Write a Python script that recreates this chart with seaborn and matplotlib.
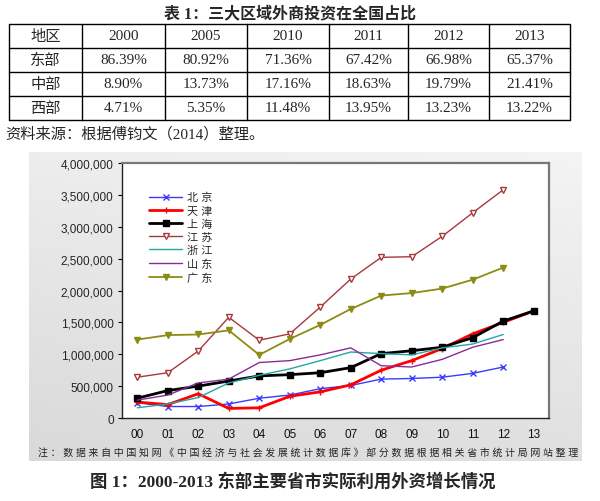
import numpy as np
import pandas as pd
import matplotlib
matplotlib.use('Agg')
import matplotlib.pyplot as plt
import seaborn as sns
from matplotlib.colors import LinearSegmentedColormap
from matplotlib.ticker import FuncFormatter, MultipleLocator, FixedLocator

sns.set_style('white')
plt.rcParams['font.family'] = ['Liberation Sans', 'Noto Sans CJK SC']

# Table 1 data
table_header = ['地区', '2000', '2005', '2010', '2011', '2012', '2013']
regions = ['东部', '中部', '西部']
east_share = [86.39, 80.92, 71.36, 67.42, 66.98, 65.37]
central_share = [8.90, 13.73, 17.16, 18.63, 19.79, 21.41]
west_share = [4.71, 5.35, 11.48, 13.95, 13.23, 13.22]

# Figure 1 data (actual use of foreign capital)
years = ['00', '01', '02', '03', '04', '05', '06', '07', '08', '09', '10', '11', '12', '13']
beijing = [240000, 180000, 180000, 220000, 310000, 360000, 460000, 510000, 610000, 620000, 640000, 700000, 800000]
tianjin = [250000, 210000, 380000, 150000, 160000, 340000, 410000, 520000, 750000, 900000, 1090000, 1320000, 1500000, 1680000]
shanghai = [310000, 430000, 500000, 580000, 660000, 680000, 710000, 790000, 1010000, 1055000, 1110000, 1260000, 1520000, 1680000]
jiangsu = [640000, 710000, 1050000, 1580000, 1220000, 1320000, 1740000, 2180000, 2520000, 2530000, 2850000, 3220000, 3580000]
zhejiang = [160000, 220000, 320000, 550000, 670000, 770000, 900000, 1035000, 1010000, 990000, 1100000, 1160000, 1310000]
shandong = [280000, 360000, 550000, 610000, 870000, 900000, 990000, 1100000, 820000, 800000, 920000, 1110000, 1230000]
guangdong = [1230000, 1300000, 1310000, 1375000, 990000, 1240000, 1460000, 1710000, 1920000, 1960000, 2030000, 2170000, 2360000]

series = [
    ('北京', beijing, '#3a3aff', 'x', 1.0, None),
    ('天津', tianjin, '#ff0000', '+', 2.0, None),
    ('上海', shanghai, '#000000', 's', 2.0, None),
    ('江苏', jiangsu, '#a8383c', 'v', 1.0, 'white'),
    ('浙江', zhejiang, '#25a5a5', None, 1.0, None),
    ('山东', shandong, '#8a2a9a', None, 1.0, None),
    ('广东', guangdong, '#8c8c14', 'v', 1.3, None),
]

rows = []
for name, vals, *_ in series:
    for i, v in enumerate(vals):
        rows.append({'省市': name, 'idx': i, 'value': v})
df = pd.DataFrame(rows)

fig = plt.figure(figsize=(6, 5.02), dpi=100)
fig.patch.set_facecolor('white')

# background layer in pixel coordinates
bg = fig.add_axes([0, 0, 1, 1], zorder=0)
bg.set_xlim(0, 600)
bg.set_ylim(502, 0)
bg.axis('off')

# gray gradient panel behind chart
gx, gy = np.meshgrid(np.linspace(0, 1, 200), np.linspace(0, 1, 200))
grad = 0.75 * gy + 0.25 * (1 - gx)
cmap = LinearSegmentedColormap.from_list('panel', ['#f4f4f4', '#d9d9d9'])
bg.imshow(grad, extent=[29, 582, 462, 153], cmap=cmap, aspect='auto', zorder=0)
bg.set_xlim(0, 600)
bg.set_ylim(502, 0)

# Table 1
bg.text(290, 14, '表 1：三大区域外商投资在全国占比', ha='center', va='center',
        fontsize=11.5, fontweight='bold', family=['Liberation Serif', 'Noto Sans CJK SC'])
col_x = [9, 82, 165, 247, 329, 408, 489, 570]
row_y = [25, 49, 73, 97, 121]
for x in col_x:
    bg.plot([x, x], [row_y[0], row_y[-1]], color='black', lw=1)
for y in row_y:
    bg.plot([col_x[0], col_x[-1]], [y, y], color='black', lw=1)

table_rows = [table_header] + [[r] + ['%.2f%%' % v for v in vals]
                               for r, vals in zip(regions, [east_share, central_share, west_share])]
for ri, row in enumerate(table_rows):
    yc = (row_y[ri] + row_y[ri + 1]) / 2
    for ci, cell in enumerate(row):
        xc = (col_x[ci] + col_x[ci + 1]) / 2
        bg.text(xc, yc, cell, ha='center', va='center', fontsize=11,
                family=['Liberation Serif', 'Noto Sans CJK SC'])

bg.text(5, 134, '资料来源：根据傅钧文（2014）整理。', ha='left', va='center', fontsize=11,
        family=['Liberation Serif', 'Noto Sans CJK SC'])

# chart
ax = fig.add_axes([122 / 600, 1 - 419 / 502, 427 / 600, 255 / 502], zorder=1)
ax.set_facecolor('white')
for name, vals, color, marker, lw, mfc in series:
    sub = df[df['省市'] == name]
    kw = dict(color=color, linewidth=lw, label=' '.join(name))
    if marker is not None:
        kw.update(marker=marker, markersize=4.2, markeredgecolor=color,
                  markerfacecolor=mfc if mfc else color, markeredgewidth=1.0)
    sns.lineplot(data=sub, x='idx', y='value', ax=ax, **kw)

ax.set_xlim(-0.5, 13.5)
ax.set_ylim(0, 4000000)
ax.yaxis.set_major_locator(MultipleLocator(500000))
ax.yaxis.set_major_formatter(FuncFormatter(lambda v, p: '{:,.0f}'.format(v)))
ax.xaxis.set_major_locator(FixedLocator(range(len(years))))
ax.set_xticklabels(years)
ax.xaxis.set_minor_locator(FixedLocator(np.arange(-0.5, 14, 1)))
ax.tick_params(axis='x', which='major', length=0, pad=7, labelsize=8.5, colors='#111111')
ax.tick_params(axis='x', which='minor', length=4, width=0.8, color='black', direction='out')
ax.tick_params(axis='y', which='major', length=3, width=0.8, pad=3, labelsize=8.5,
               color='black', direction='out', left=True)
ax.set_xlabel('')
ax.set_ylabel('')
for side in ['left', 'bottom']:
    ax.spines[side].set_color('#222222')
    ax.spines[side].set_linewidth(1.0)
for side in ['top', 'right']:
    ax.spines[side].set_color('#777777')
    ax.spines[side].set_linewidth(1.6)

ax.legend(loc='upper left', bbox_to_anchor=(0.063, 0.886), frameon=False, fontsize=8,
          borderpad=0, borderaxespad=0, labelspacing=0.28, handlelength=3.0,
          handletextpad=0.45)

# note and caption
note = '注：数据来自中国知网《中国经济与社会发展统计数据库》部分数据根据相关省市统计局网站整理'
bg.text(38, 453, ' '.join(note), ha='left', va='center', fontsize=7.15, color='#222222')
bg.text(293, 482, '图 1：2000-2013 东部主要省市实际利用外资增长情况', ha='center', va='center',
        fontsize=12.5, fontweight='bold', family=['Liberation Serif', 'Noto Sans CJK SC'])

fig.savefig('out.png', dpi=100)
